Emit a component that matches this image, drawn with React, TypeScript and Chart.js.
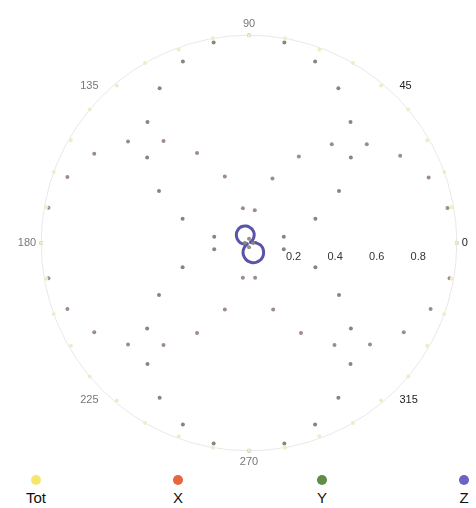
import React, { useEffect, useRef } from "react";
import { Chart, registerables } from "chart.js";

Chart.register(...registerables);

// Sample angles (degrees, counter-clockwise from the right)
const ANGLES = [0, 10, 20, 30, 40, 50, 60, 70, 80, 90, 100, 110, 120, 130, 140, 150, 160, 170,
  180, 190, 200, 210, 220, 230, 240, 250, 260, 270, 280, 290, 300, 310, 320, 330, 340, 350];

const TOT_VALUES = [1.0, 0.99, 1.0, 0.99, 1.0, 0.99, 1.0, 0.99, 1.0, 1.0, 1.0, 0.99, 1.0, 0.99, 1.0, 0.99, 1.0, 0.99,
  1.0, 0.99, 1.0, 0.99, 1.0, 0.99, 1.0, 0.99, 1.0, 1.0, 1.0, 0.99, 1.0, 0.99, 1.0, 0.99, 1.0, 0.99];

const X_VALUES = [1.0, 0.97, 0.92, 0.84, 0.74, 0.62, 0.48, 0.33, 0.16, 0.02, 0.17, 0.34, 0.5, 0.64, 0.76, 0.86, 0.93, 0.98,
  1.0, 0.98, 0.93, 0.86, 0.76, 0.64, 0.5, 0.34, 0.17, 0.02, 0.17, 0.34, 0.5, 0.64, 0.76, 0.86, 0.93, 0.98];

const Y_VALUES = [0.02, 0.17, 0.34, 0.5, 0.64, 0.76, 0.86, 0.93, 0.98, 1.0, 0.98, 0.93, 0.86, 0.76, 0.64, 0.5, 0.34, 0.17,
  0.02, 0.17, 0.34, 0.5, 0.64, 0.76, 0.86, 0.93, 0.98, 1.0, 0.98, 0.93, 0.86, 0.76, 0.64, 0.5, 0.34, 0.17];

const Z_VALUES = [0.036, 0.022, 0.008, 0.008, 0.022, 0.036, 0.05, 0.061, 0.07, 0.078, 0.083, 0.086, 0.086, 0.083, 0.078, 0.07, 0.061, 0.05,
  0.04, 0.025, 0.009, 0.009, 0.025, 0.042, 0.057, 0.07, 0.081, 0.09, 0.096, 0.099, 0.099, 0.096, 0.09, 0.081, 0.07, 0.057];

// Angular axis labels and radial tick labels
const AXIS_ANGLES = [0, 45, 90, 135, 180, 225, 270, 315];
const DARK_AXIS_LABELS = ["45", "315", "0"];
const RADIAL_TICKS = [0.2, 0.4, 0.6, 0.8];
const RADIAL_TICK_LABELS = ["0.2", "0.4", "0.6", "0.8"];

const SERIES_NAMES = ["Tot", "X", "Y", "Z"];
const SERIES_COLORS = ["#f6e66e", "#e8653f", "#5f8c46", "#6d63c4"];

// slots every 5 degrees, clockwise from the top (radar layout)
const SLOT_STEP = 5;
const SLOT_COUNT = 360 / SLOT_STEP;
const slotOf = (deg: number) => (((90 - deg) % 360) + 360) % 360 / SLOT_STEP;

function buildLabels(): string[] {
  const out: string[] = new Array(SLOT_COUNT).fill("");
  AXIS_ANGLES.forEach((a) => {
    out[slotOf(a)] = String(a);
  });
  return out;
}

function buildData(values: number[]): (number | null)[] {
  const out: (number | null)[] = new Array(SLOT_COUNT).fill(null);
  ANGLES.forEach((a, i) => {
    out[slotOf(a)] = values[i];
  });
  return out;
}

const tickPlugin = {
  id: "radialTickLabels",
  afterDraw(chart: any) {
    const s = chart.scales.r;
    const ctx = chart.ctx;
    ctx.save();
    ctx.font = "11px 'Liberation Sans', Arial, sans-serif";
    ctx.fillStyle = "#333";
    ctx.textAlign = "center";
    ctx.textBaseline = "middle";
    RADIAL_TICKS.forEach((v, i) => {
      const d = s.getDistanceFromCenterForValue(v);
      ctx.fillText(RADIAL_TICK_LABELS[i], s.xCenter + d + 3, s.yCenter + 14);
    });
    ctx.restore();
  },
};

export default function App() {
  const ref = useRef<HTMLCanvasElement | null>(null);

  useEffect(() => {
    if (!ref.current) return;
    const chart = new Chart(ref.current, {
      type: "radar",
      data: {
        labels: buildLabels(),
        datasets: [
          {
            label: "Tot",
            data: buildData(TOT_VALUES),
            showLine: false,
            pointRadius: 2,
            pointBackgroundColor: "#f0ecc8",
            pointBorderWidth: 0,
            borderColor: "transparent",
            backgroundColor: "transparent",
          },
          {
            label: "X",
            data: buildData(X_VALUES),
            showLine: false,
            pointRadius: 2,
            pointBackgroundColor: "#9e8c8a",
            pointBorderWidth: 0,
            borderColor: "transparent",
            backgroundColor: "transparent",
          },
          {
            label: "Y",
            data: buildData(Y_VALUES),
            showLine: false,
            pointRadius: 2,
            pointBackgroundColor: "#858680",
            pointBorderWidth: 0,
            borderColor: "transparent",
            backgroundColor: "transparent",
          },
          {
            label: "Z",
            data: buildData(Z_VALUES),
            spanGaps: true,
            pointRadius: 0,
            borderColor: "#5a54a8",
            borderWidth: 3,
            backgroundColor: "transparent",
            fill: false,
            tension: 0.3,
          },
        ],
      },
      options: {
        responsive: false,
        animation: false,
        devicePixelRatio: 1,
        layout: { padding: { top: 17, bottom: 1, left: 10, right: 0 } },
        plugins: {
          legend: { display: false },
          tooltip: { enabled: false },
        },
        scales: {
          r: {
            min: 0,
            max: 1,
            ticks: { display: false, stepSize: 0.2 },
            angleLines: { display: false },
            grid: {
              circular: true,
              color: (c: any) => (c.tick && c.tick.value === 1 ? "#e8e8e8" : "rgba(0,0,0,0)"),
            },
            pointLabels: {
              display: true,
              padding: 5,
              color: (c: any) => (DARK_AXIS_LABELS.includes(c.label) ? "#222" : "#777"),
              font: { size: 11, family: "'Liberation Sans', Arial, sans-serif" },
            },
          },
        },
      },
      plugins: [tickPlugin],
    });
    return () => chart.destroy();
  }, []);

  const legendLeft = [36, 178, 322, 464];

  return (
    <div style={{ position: "absolute", left: 0, top: 0, width: 476, height: 508, background: "#fff" }}>
      <canvas ref={ref} width={476} height={470} style={{ display: "block" }} />
      {SERIES_NAMES.map((n, i) => (
        <div
          key={n}
          style={{
            position: "absolute",
            left: legendLeft[i] - 20,
            top: 475,
            width: 40,
            textAlign: "center",
            fontFamily: "'Liberation Sans', Arial, sans-serif",
            fontSize: 15,
            color: "#111",
          }}
        >
          <div
            style={{
              width: 10,
              height: 10,
              borderRadius: "50%",
              background: SERIES_COLORS[i],
              margin: "0 auto 4px",
            }}
          />
          <div style={{ lineHeight: "18px" }}>{n}</div>
        </div>
      ))}
    </div>
  );
}
